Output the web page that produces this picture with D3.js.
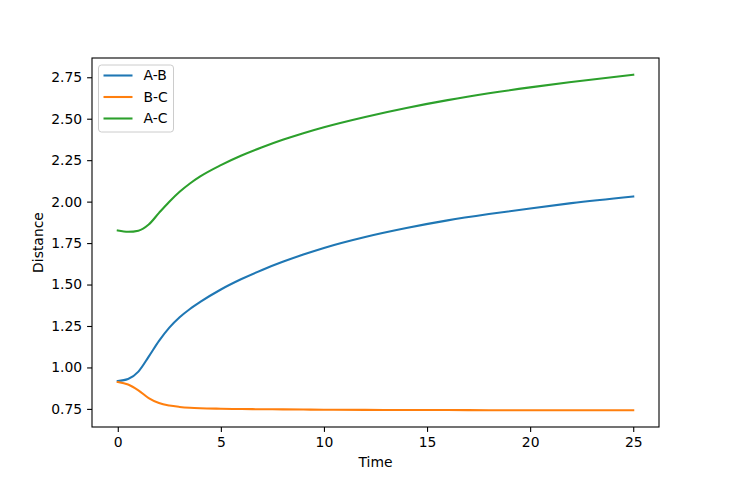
<!DOCTYPE html>
<html>
<head>
<meta charset="utf-8">
<script src="https://cdn.jsdelivr.net/npm/d3@7"></script>
<style>
  body { margin: 0; background: #fff; }
  text { font-family: "DejaVu Sans", sans-serif; }
</style>
</head>
<body>
<svg id="chart" width="732" height="480"></svg>
<script>
// values
const time = [0, 0.5, 1, 1.5, 2, 2.5, 3, 3.5, 4, 5, 6, 7, 8, 9, 10, 12, 14, 16, 18, 20, 22, 25]
const distAB = [0.918, 0.930, 0.975, 1.065, 1.16, 1.24, 1.3025, 1.3525, 1.395, 1.47, 1.533, 1.588, 1.637, 1.681,
    1.721, 1.787, 1.841, 1.887, 1.925, 1.959, 1.991, 2.031]
const distBC = [0.912, 0.897, 0.862, 0.815, 0.785, 0.770, 0.762, 0.757, 0.754, 0.751, 0.749, 0.748, 0.747, 0.746,
    0.745, 0.744, 0.743, 0.743, 0.742, 0.742, 0.742, 0.742]
const distAC = [1.826, 1.818, 1.825, 1.862, 1.932, 1.9995, 2.0595, 2.1095, 2.152, 2.22, 2.278, 2.328, 2.373, 2.413,
    2.449, 2.511, 2.565, 2.612, 2.653, 2.689, 2.721, 2.765]
const seriesNames = ['A-B', 'B-C', 'A-C']
const seriesColors = ['#1f77b4', '#ff7f0e', '#2ca02c']
const xTicks = [0, 5, 10, 15, 20, 25]
const yTicks = [0.75, 1.00, 1.25, 1.50, 1.75, 2.00, 2.25, 2.50, 2.75]

const series = [distAB, distBC, distAC].map((vals, i) => ({
    name: seriesNames[i],
    color: seriesColors[i],
    points: vals.map((v, j) => ({ t: time[j], v: v }))
}))

const chartSize = { width: 732, height: 480, marginTop: 58, marginRight: 73, marginBottom: 53, marginLeft: 92 }
const innerW = chartSize.width - chartSize.marginLeft - chartSize.marginRight
const innerH = chartSize.height - chartSize.marginTop - chartSize.marginBottom

// matplotlib style 5% padding
function padded(ext) {
    let d = (ext[1] - ext[0]) * 0.05
    return [ext[0] - d, ext[1] + d]
}

const svg = d3.select('#chart')
const g = svg.append('g')
    .attr('transform', `translate(${chartSize.marginLeft},${chartSize.marginTop})`)

var x = d3.scaleLinear()
    .domain(padded(d3.extent(time)))
    .range([0, innerW])

var y = d3.scaleLinear()
    .domain(padded(d3.extent([].concat(distAB, distBC, distAC))))
    .range([innerH, 0])

// axes
const xAxis = g.append('g')
    .attr('transform', `translate(0,${innerH})`)
    .call(d3.axisBottom(x).tickValues(xTicks).tickFormat(d3.format('d')).tickSize(4.9).tickPadding(4.9))
const yAxis = g.append('g')
    .call(d3.axisLeft(y).tickValues(yTicks).tickFormat(d3.format('.2f')).tickSize(4.9).tickPadding(4.9))

;[xAxis, yAxis].forEach(a => {
    a.select('.domain').remove()
    a.selectAll('.tick line').attr('stroke', '#000').attr('stroke-width', 1.1)
    a.selectAll('.tick text').attr('fill', '#000').style('font-size', '13.9px')
        .style('font-family', '"DejaVu Sans", sans-serif')
})

// lines
const line = d3.line()
    .x(d => x(d.t))
    .y(d => y(d.v))
    .curve(d3.curveMonotoneX)

g.selectAll('.series')
    .data(series)
    .join('path')
    .attr('class', 'series')
    .attr('fill', 'none')
    .attr('stroke', d => d.color)
    .attr('stroke-width', 2.08)
    .attr('stroke-linecap', 'square')
    .attr('d', d => line(d.points))

// frame
g.append('rect')
    .attr('width', innerW)
    .attr('height', innerH)
    .attr('fill', 'none')
    .attr('stroke', '#000')
    .attr('stroke-width', 1.1)

// axis labels
svg.append('text')
    .attr('x', chartSize.marginLeft + innerW / 2)
    .attr('y', 467)
    .attr('text-anchor', 'middle')
    .style('font-size', '13.9px')
    .text('Time')

svg.append('text')
    .attr('transform', `translate(43,${chartSize.marginTop + innerH / 2}) rotate(-90)`)
    .attr('text-anchor', 'middle')
    .style('font-size', '13.9px')
    .text('Distance')

// legend
const legend = g.append('g').attr('transform', 'translate(6.5,7)')
legend.append('rect')
    .attr('width', 75)
    .attr('height', 67)
    .attr('rx', 3)
    .attr('fill', '#fff')
    .attr('fill-opacity', 0.8)
    .attr('stroke', '#cccccc')
    .attr('stroke-width', 1)

const items = legend.selectAll('.item')
    .data(series)
    .join('g')
    .attr('class', 'item')
    .attr('transform', (d, i) => `translate(0,${10.5 + i * 21.5})`)
items.append('line')
    .attr('x1', 5).attr('x2', 34)
    .attr('stroke', d => d.color)
    .attr('stroke-width', 2.08)
items.append('text')
    .attr('x', 45)
    .attr('dy', '0.35em')
    .style('font-size', '13.9px')
    .text(d => d.name)
</script>
</body>
</html>
